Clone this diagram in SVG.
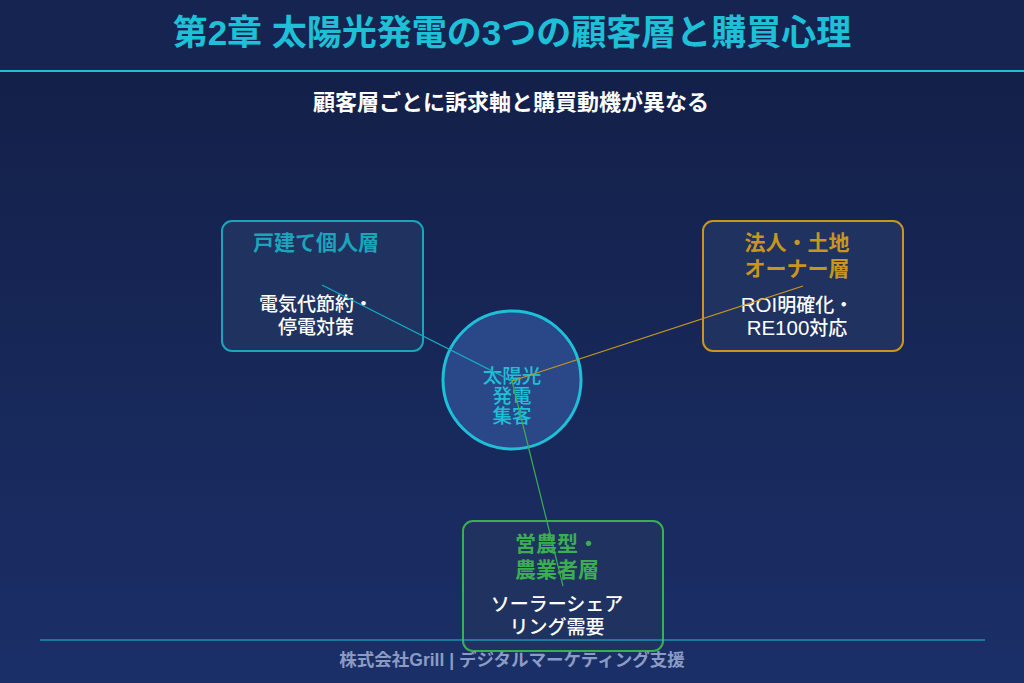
<svg xmlns="http://www.w3.org/2000/svg" width="1024" height="683" viewBox="0 0 1024 683">
<defs>
<linearGradient id="bg" x1="0" y1="0" x2="0" y2="1">
<stop offset="0" stop-color="#121e45"/>
<stop offset="1" stop-color="#1b2f68"/>
</linearGradient>
<style>
text{font-family:"Liberation Sans","Noto Sans CJK JP",sans-serif;text-anchor:middle}
.box{fill:#1f3260;stroke-width:2}
.ttl{font-size:21px;font-weight:700}
.body{font-size:19px;font-weight:500;fill:#ffffff}
.lat{font-size:20.5px}
.conn{fill:none;stroke-width:1.2}
.ctr{font-size:19.5px;font-weight:500;fill:#1ec0d8}
</style>
</defs>
<rect width="1024" height="683" fill="url(#bg)"/>
<rect width="1024" height="70" fill="#152450"/>
<line x1="0" y1="71" x2="1024" y2="71" stroke="#1ec0d8" stroke-width="2"/>
<text x="512" y="45" font-size="35" font-weight="700" fill="#1ec0d8">第2章 太陽光発電の3つの顧客層と購買心理</text>
<text x="511" y="110" font-size="22" font-weight="700" fill="#ffffff">顧客層ごとに訴求軸と購買動機が異なる</text>

<g id="node-kojin">
<rect class="box" x="222" y="221" width="201" height="130" rx="10" stroke="#1aa5bc"/>
<text class="ttl" x="316" y="250" fill="#1aa5bc">戸建て個人層</text>
<text class="body" x="316" y="311">電気代節約・</text>
<text class="body" x="316" y="334">停電対策</text>
</g>
<g id="node-houjin">
<rect class="box" x="703" y="221" width="200" height="130" rx="10" stroke="#c8961e"/>
<text class="ttl" x="797" y="250" fill="#c8961e">法人・土地</text>
<text class="ttl" x="797" y="276" fill="#c8961e">オーナー層</text>
<text class="body" x="797" y="312"><tspan class="lat">ROI</tspan>明確化・</text>
<text class="body" x="797" y="335"><tspan class="lat">RE100</tspan>対応</text>
</g>
<g id="node-einou">
<rect class="box" x="463" y="521" width="200" height="130" rx="10" stroke="#3cae52"/>
<text class="ttl" x="557" y="551" fill="#3cae52">営農型・</text>
<text class="ttl" x="557" y="577" fill="#3cae52">農業者層</text>
<text class="body" x="557" y="611">ソーラーシェア</text>
<text class="body" x="557" y="634">リング需要</text>
</g>
<g id="node-center">
<circle cx="512" cy="380" r="69" fill="#2a4888" stroke="#1ec0d8" stroke-width="3"/>
<text class="ctr" x="512" y="383">太陽光</text>
<text class="ctr" x="512" y="403">発電</text>
<text class="ctr" x="512" y="423">集客</text>
</g>
<g id="connectors">
<line class="conn" x1="322" y1="285" x2="512" y2="381" stroke="#1aa8c0"/>
<line class="conn" x1="803" y1="286" x2="512" y2="381" stroke="#c8961e"/>
<line class="conn" x1="563" y1="586" x2="512" y2="381" stroke="#3cae52"/>
</g>

<line x1="40" y1="640" x2="985" y2="640" stroke="#1ec0d8" stroke-width="1"/>
<text x="512" y="666" font-size="17.5" font-weight="700" fill="#8a9cc4">株式会社Grill | デジタルマーケティング支援</text>
</svg>
